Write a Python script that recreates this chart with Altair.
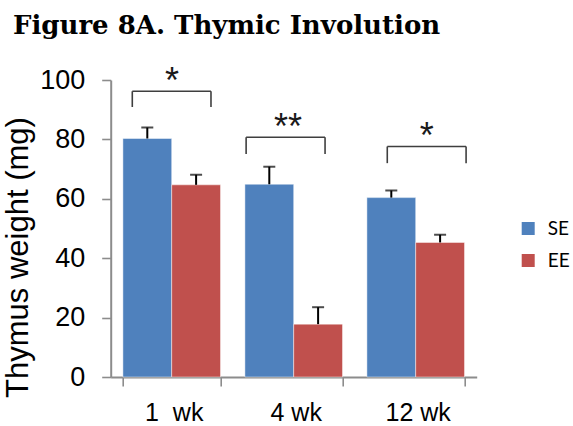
import altair as alt
import pandas as pd

# Thymus weight by age group and housing condition
periods = ["1\u00a0 wk", "4 wk", "12 wk"]
groups = ["SE", "EE"]
se_mean = [80.3, 64.9, 60.4]
ee_mean = [64.7, 17.8, 45.3]
se_err = [3.7, 5.9, 2.4]
ee_err = [3.4, 5.7, 2.6]

# Significance brackets: x in category slots (0..3), y in mg
bracket_x1 = [0.177, 1.11, 2.267]
bracket_x2 = [0.822, 1.757, 2.913]
bracket_top = [96.2, 80.7, 77.6]
bracket_foot = [90.9, 75.1, 72.0]
star_labels = ["*", "**", "*"]
star_x = [0.502, 1.453, 2.59]
star_y = [95.6, 80.3, 77.0]

colors = ["#4F81BD", "#C0504D"]
axis_gray = "#8C8C8C"

rows = []
for i, p in enumerate(periods):
    rows.append({"period": p, "group": "SE", "mean": se_mean[i], "top": se_mean[i] + se_err[i]})
    rows.append({"period": p, "group": "EE", "mean": ee_mean[i], "top": ee_mean[i] + ee_err[i]})
bars_df = pd.DataFrame(rows)

brackets_df = pd.DataFrame({"x1": bracket_x1, "x2": bracket_x2,
                            "top": bracket_top, "foot": bracket_foot})
legs_df = pd.DataFrame({
    "x": bracket_x1 + bracket_x2,
    "top": bracket_top + bracket_top,
    "foot": bracket_foot + bracket_foot,
})
stars_df = pd.DataFrame({"label": star_labels, "x": star_x, "y": star_y})

y_scale = alt.Scale(domain=[0, 100], nice=False)
band_scale = alt.Scale(paddingInner=0.2, paddingOuter=0.1)
x_band = alt.X(
    "period:N", sort=periods, title=None, scale=band_scale,
    axis=alt.Axis(tickBand="extent", labelAngle=0, labelFontSize=25,
                  labelBaseline="alphabetic", labelPadding=34, labelOffset=2, tickSize=9),
)
x_band_plain = alt.X("period:N", sort=periods, scale=band_scale, axis=None)
x_off = alt.XOffset("group:N", sort=groups, scale=alt.Scale(paddingInner=0, paddingOuter=0))

bars = alt.Chart(bars_df).mark_bar(stroke="white", strokeOpacity=0.45, strokeWidth=1).encode(
    x=x_band,
    xOffset=x_off,
    y=alt.Y("mean:Q", scale=y_scale,
            axis=alt.Axis(values=[0, 20, 40, 60, 80, 100], title="Thymus weight (mg)",
                          labelFontSize=27, labelPadding=17, tickSize=9,
                          titleFontSize=31, titleFontWeight="normal",
                          titleAngle=270, titleAlign="center", titleBaseline="alphabetic",
                          titleX=-83, titleY=177)),
    color=alt.Color("group:N", sort=groups,
                    scale=alt.Scale(domain=groups, range=colors),
                    legend=alt.Legend(title=None, orient="none", legendX=408, legendY=139,
                                      symbolType="square", symbolSize=169, symbolStrokeWidth=0,
                                      labelFont="Lato", labelFontSize=19, labelOffset=10,
                                      rowPadding=12, padding=0)),
)

err_line = alt.Chart(bars_df).mark_rule(color="black", strokeWidth=2).encode(
    x=x_band_plain, xOffset=x_off,
    y=alt.Y("mean:Q", scale=y_scale), y2="top:Q",
)
err_cap = alt.Chart(bars_df).mark_tick(color="black", thickness=2, size=12, orient="horizontal").encode(
    x=x_band_plain, xOffset=x_off,
    y=alt.Y("top:Q", scale=y_scale),
)

x_slot = alt.Scale(domain=[0, 3], nice=False, zero=False)
bracket_col = "#3F3F3F"
bracket_bar = alt.Chart(brackets_df).mark_rule(color=bracket_col, strokeWidth=1.6).encode(
    x=alt.X("x1:Q", scale=x_slot, axis=None), x2="x2:Q",
    y=alt.Y("top:Q", scale=y_scale),
)
bracket_legs = alt.Chart(legs_df).mark_rule(color=bracket_col, strokeWidth=1.6).encode(
    x=alt.X("x:Q", scale=x_slot, axis=None),
    y=alt.Y("foot:Q", scale=y_scale), y2="top:Q",
)
stars = alt.Chart(stars_df).mark_text(font="Liberation Sans", fontSize=36, color="#1A1A1A",
                                      align="center", baseline="alphabetic").encode(
    x=alt.X("x:Q", scale=x_slot, axis=None),
    y=alt.Y("y:Q", scale=y_scale),
    text="label:N",
)

chart = alt.layer(
    bars, err_line, err_cap, bracket_bar, bracket_legs, stars
).resolve_scale(
    x="independent"
).properties(
    width=366, height=297,
    autosize=alt.AutoSizeParams(type="none"),
    padding={"left": 110.7, "top": 80, "right": 96.3, "bottom": 49},
    title=alt.TitleParams("Figure 8A. Thymic Involution", font="DejaVu Serif", fontSize=26,
                          fontWeight="bold", color="black", anchor="start", frame="group",
                          baseline="alphabetic", dx=-97.7, offset=4),
).configure_view(
    stroke=None
).configure_axis(
    labelFont="Liberation Sans", titleFont="Liberation Sans",
    labelColor="black", titleColor="black",
    domainColor=axis_gray, domainWidth=2, tickColor=axis_gray, tickWidth=1.6,
    grid=False,
)

chart.save("out.html", embed_options={"renderer": "svg", "actions": False})
